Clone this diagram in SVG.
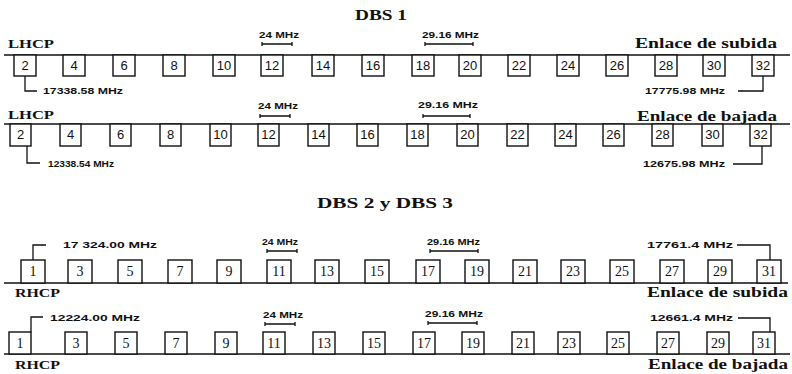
<svg xmlns="http://www.w3.org/2000/svg" width="792" height="374" viewBox="0 0 792 374">
<style>
.bg{fill:#fff}
.bx{fill:#fff;stroke:#111;stroke-width:1.4}
.ln{stroke:#111;stroke-width:1.6;fill:none}
.cn{stroke:#111;stroke-width:1.3;fill:none}
.bar{stroke:#111;stroke-width:1.3;fill:none}
.ttl{font-family:"Liberation Serif",serif;font-weight:bold;font-size:15px;fill:#111}
.pol{font-family:"Liberation Serif",serif;font-weight:bold;font-size:13px;fill:#111}
.lnk{font-family:"Liberation Serif",serif;font-weight:bold;font-size:15px;fill:#111}
.fq{font-family:"Liberation Sans",sans-serif;font-weight:bold;font-size:9px;fill:#111}
.na{font-family:"Liberation Sans",sans-serif;font-size:13px;fill:#111;text-anchor:middle}
.nb{font-family:"Liberation Serif",serif;font-size:14px;fill:#111;text-anchor:middle}
</style>
<rect class="bg" x="0" y="0" width="792" height="374"/>

<!-- Titles and labels -->
<text class="ttl" x="355" y="20" textLength="52" lengthAdjust="spacingAndGlyphs">DBS 1</text>
<text class="ttl" x="317" y="208" textLength="136" lengthAdjust="spacingAndGlyphs">DBS 2  y DBS 3</text>

<text class="pol" x="8" y="48" textLength="46" lengthAdjust="spacingAndGlyphs">LHCP</text>
<text class="pol" x="8" y="119" textLength="46" lengthAdjust="spacingAndGlyphs">LHCP</text>
<text class="pol" x="15" y="297" textLength="45" lengthAdjust="spacingAndGlyphs">RHCP</text>
<text class="pol" x="15" y="369" textLength="45" lengthAdjust="spacingAndGlyphs">RHCP</text>

<text class="lnk" x="635" y="48" textLength="142" lengthAdjust="spacingAndGlyphs">Enlace de subida</text>
<text class="lnk" x="637" y="121" textLength="140" lengthAdjust="spacingAndGlyphs">Enlace de bajada</text>
<text class="lnk" x="647" y="297" textLength="141" lengthAdjust="spacingAndGlyphs">Enlace de subida</text>
<text class="lnk" x="648" y="369" textLength="140" lengthAdjust="spacingAndGlyphs">Enlace de bajada</text>

<text class="fq" x="259" y="38" textLength="40" lengthAdjust="spacingAndGlyphs">24 MHz</text>
<text class="fq" x="422" y="38" textLength="57" lengthAdjust="spacingAndGlyphs">29.16 MHz</text>
<text class="fq" x="258" y="109" textLength="40" lengthAdjust="spacingAndGlyphs">24 MHz</text>
<text class="fq" x="418" y="108" textLength="60" lengthAdjust="spacingAndGlyphs">29.16 MHz</text>
<text class="fq" x="262" y="245" textLength="36" lengthAdjust="spacingAndGlyphs">24 MHz</text>
<text class="fq" x="427" y="245" textLength="53" lengthAdjust="spacingAndGlyphs">29.16 MHz</text>
<text class="fq" x="263" y="318" textLength="40" lengthAdjust="spacingAndGlyphs">24 MHz</text>
<text class="fq" x="425" y="317" textLength="58" lengthAdjust="spacingAndGlyphs">29.16 MHz</text>

<text class="fq" x="43" y="94" textLength="80" lengthAdjust="spacingAndGlyphs">17338.58 MHz</text>
<text class="fq" x="645" y="94" textLength="80" lengthAdjust="spacingAndGlyphs">17775.98 MHz</text>
<text class="fq" x="48" y="167" textLength="66" lengthAdjust="spacingAndGlyphs">12338.54 MHz</text>
<text class="fq" x="643" y="167" textLength="82" lengthAdjust="spacingAndGlyphs">12675.98 MHz</text>
<text class="fq" x="63" y="248" textLength="94" lengthAdjust="spacingAndGlyphs">17 324.00 MHz</text>
<text class="fq" x="647" y="248" textLength="86" lengthAdjust="spacingAndGlyphs">17761.4 MHz</text>
<text class="fq" x="50" y="321" textLength="90" lengthAdjust="spacingAndGlyphs">12224.00 MHz</text>
<text class="fq" x="650" y="321" textLength="83" lengthAdjust="spacingAndGlyphs">12661.4 MHz</text>

<!-- Connectors: baselines, spacing bars, brackets -->
<g id="connectors">
  <path class="ln" d="M4 55H790"/>
  <path class="ln" d="M4 124H790"/>
  <path class="ln" d="M4 283H788"/>
  <path class="ln" d="M4 354H790"/>

  <path class="bar" d="M262 44H292M262 42V46M292 42V46"/>
  <path class="bar" d="M425 44H473M425 42V46M473 42V46"/>
  <path class="bar" d="M260 116H290M260 114V118M290 114V118"/>
  <path class="bar" d="M423 116H470M423 114V118M470 114V118"/>
  <path class="bar" d="M267 251H297M267 249V253M297 249V253"/>
  <path class="bar" d="M430 251H478M430 249V253M478 249V253"/>
  <path class="bar" d="M265 324H295M265 322V326M295 322V326"/>
  <path class="bar" d="M428 323H477M428 321V325M477 321V325"/>

  <path class="cn" d="M25 76V91H37"/>
  <path class="cn" d="M738 91H763V76"/>
  <path class="cn" d="M27 146V163H40"/>
  <path class="cn" d="M733 164H762V146"/>
  <path class="cn" d="M33 260V245H46"/>
  <path class="cn" d="M737 245H770V260"/>
  <path class="cn" d="M31 332V317H43"/>
  <path class="cn" d="M738 318H770V332"/>
</g>

<!-- DBS 1 uplink channels -->
<g id="up1-2"><rect class="bx" x="14" y="55" width="22" height="21"/><text class="na" x="25" y="70">2</text></g>
<g id="up1-4"><rect class="bx" x="63" y="55" width="22" height="21"/><text class="na" x="74" y="70">4</text></g>
<g id="up1-6"><rect class="bx" x="113" y="55" width="22" height="21"/><text class="na" x="124" y="70">6</text></g>
<g id="up1-8"><rect class="bx" x="163" y="55" width="22" height="21"/><text class="na" x="174" y="70">8</text></g>
<g id="up1-10"><rect class="bx" x="213" y="55" width="22" height="21"/><text class="na" x="224" y="70">10</text></g>
<g id="up1-12"><rect class="bx" x="261" y="55" width="22" height="21"/><text class="na" x="272" y="70">12</text></g>
<g id="up1-14"><rect class="bx" x="312" y="55" width="22" height="21"/><text class="na" x="323" y="70">14</text></g>
<g id="up1-16"><rect class="bx" x="362" y="55" width="22" height="21"/><text class="na" x="373" y="70">16</text></g>
<g id="up1-18"><rect class="bx" x="412" y="55" width="22" height="21"/><text class="na" x="423" y="70">18</text></g>
<g id="up1-20"><rect class="bx" x="459" y="55" width="22" height="21"/><text class="na" x="470" y="70">20</text></g>
<g id="up1-22"><rect class="bx" x="508" y="55" width="22" height="21"/><text class="na" x="519" y="70">22</text></g>
<g id="up1-24"><rect class="bx" x="557" y="55" width="22" height="21"/><text class="na" x="568" y="70">24</text></g>
<g id="up1-26"><rect class="bx" x="606" y="55" width="22" height="21"/><text class="na" x="617" y="70">26</text></g>
<g id="up1-28"><rect class="bx" x="655" y="55" width="22" height="21"/><text class="na" x="666" y="70">28</text></g>
<g id="up1-30"><rect class="bx" x="703" y="55" width="22" height="21"/><text class="na" x="714" y="70">30</text></g>
<g id="up1-32"><rect class="bx" x="752" y="55" width="22" height="21"/><text class="na" x="763" y="70">32</text></g>

<!-- DBS 1 downlink channels -->
<g id="dn1-2"><rect class="bx" x="10" y="124" width="21" height="22"/><text class="na" x="20.5" y="139">2</text></g>
<g id="dn1-4"><rect class="bx" x="60" y="124" width="21" height="22"/><text class="na" x="70.5" y="139">4</text></g>
<g id="dn1-6"><rect class="bx" x="110" y="124" width="21" height="22"/><text class="na" x="120.5" y="139">6</text></g>
<g id="dn1-8"><rect class="bx" x="160" y="124" width="21" height="22"/><text class="na" x="170.5" y="139">8</text></g>
<g id="dn1-10"><rect class="bx" x="210" y="124" width="21" height="22"/><text class="na" x="220.5" y="139">10</text></g>
<g id="dn1-12"><rect class="bx" x="258" y="124" width="21" height="22"/><text class="na" x="268.5" y="139">12</text></g>
<g id="dn1-14"><rect class="bx" x="308" y="124" width="21" height="22"/><text class="na" x="318.5" y="139">14</text></g>
<g id="dn1-16"><rect class="bx" x="357" y="124" width="21" height="22"/><text class="na" x="367.5" y="139">16</text></g>
<g id="dn1-18"><rect class="bx" x="407" y="124" width="21" height="22"/><text class="na" x="417.5" y="139">18</text></g>
<g id="dn1-20"><rect class="bx" x="457" y="124" width="21" height="22"/><text class="na" x="467.5" y="139">20</text></g>
<g id="dn1-22"><rect class="bx" x="507" y="124" width="21" height="22"/><text class="na" x="517.5" y="139">22</text></g>
<g id="dn1-24"><rect class="bx" x="555" y="124" width="21" height="22"/><text class="na" x="565.5" y="139">24</text></g>
<g id="dn1-26"><rect class="bx" x="603" y="124" width="21" height="22"/><text class="na" x="613.5" y="139">26</text></g>
<g id="dn1-28"><rect class="bx" x="652" y="124" width="21" height="22"/><text class="na" x="662.5" y="139">28</text></g>
<g id="dn1-30"><rect class="bx" x="702" y="124" width="21" height="22"/><text class="na" x="712.5" y="139">30</text></g>
<g id="dn1-32"><rect class="bx" x="750" y="124" width="21" height="22"/><text class="na" x="760.5" y="139">32</text></g>

<!-- DBS 2/3 uplink channels -->
<g id="up2-1"><rect class="bx" x="21" y="260" width="24" height="23"/><text class="nb" x="33" y="276">1</text></g>
<g id="up2-3"><rect class="bx" x="68" y="260" width="24" height="23"/><text class="nb" x="80" y="276">3</text></g>
<g id="up2-5"><rect class="bx" x="118" y="260" width="24" height="23"/><text class="nb" x="130" y="276">5</text></g>
<g id="up2-7"><rect class="bx" x="168" y="260" width="24" height="23"/><text class="nb" x="180" y="276">7</text></g>
<g id="up2-9"><rect class="bx" x="217" y="260" width="24" height="23"/><text class="nb" x="229" y="276">9</text></g>
<g id="up2-11"><rect class="bx" x="267" y="260" width="24" height="23"/><text class="nb" x="279" y="276">11</text></g>
<g id="up2-13"><rect class="bx" x="315" y="260" width="24" height="23"/><text class="nb" x="327" y="276">13</text></g>
<g id="up2-15"><rect class="bx" x="365" y="260" width="24" height="23"/><text class="nb" x="377" y="276">15</text></g>
<g id="up2-17"><rect class="bx" x="416" y="260" width="24" height="23"/><text class="nb" x="428" y="276">17</text></g>
<g id="up2-19"><rect class="bx" x="465" y="260" width="24" height="23"/><text class="nb" x="477" y="276">19</text></g>
<g id="up2-21"><rect class="bx" x="513" y="260" width="24" height="23"/><text class="nb" x="525" y="276">21</text></g>
<g id="up2-23"><rect class="bx" x="561" y="260" width="24" height="23"/><text class="nb" x="573" y="276">23</text></g>
<g id="up2-25"><rect class="bx" x="610" y="260" width="24" height="23"/><text class="nb" x="622" y="276">25</text></g>
<g id="up2-27"><rect class="bx" x="660" y="260" width="24" height="23"/><text class="nb" x="672" y="276">27</text></g>
<g id="up2-29"><rect class="bx" x="708" y="260" width="24" height="23"/><text class="nb" x="720" y="276">29</text></g>
<g id="up2-31"><rect class="bx" x="757" y="260" width="24" height="23"/><text class="nb" x="769" y="276">31</text></g>

<!-- DBS 2/3 downlink channels -->
<g id="dn2-1"><rect class="bx" x="9" y="332" width="22" height="22"/><text class="nb" x="20" y="348">1</text></g>
<g id="dn2-3"><rect class="bx" x="65" y="332" width="22" height="22"/><text class="nb" x="76" y="348">3</text></g>
<g id="dn2-5"><rect class="bx" x="115" y="332" width="22" height="22"/><text class="nb" x="126" y="348">5</text></g>
<g id="dn2-7"><rect class="bx" x="165" y="332" width="22" height="22"/><text class="nb" x="176" y="348">7</text></g>
<g id="dn2-9"><rect class="bx" x="215" y="332" width="22" height="22"/><text class="nb" x="226" y="348">9</text></g>
<g id="dn2-11"><rect class="bx" x="263" y="332" width="22" height="22"/><text class="nb" x="274" y="348">11</text></g>
<g id="dn2-13"><rect class="bx" x="313" y="332" width="22" height="22"/><text class="nb" x="324" y="348">13</text></g>
<g id="dn2-15"><rect class="bx" x="363" y="332" width="22" height="22"/><text class="nb" x="374" y="348">15</text></g>
<g id="dn2-17"><rect class="bx" x="413" y="332" width="22" height="22"/><text class="nb" x="424" y="348">17</text></g>
<g id="dn2-19"><rect class="bx" x="462" y="332" width="22" height="22"/><text class="nb" x="473" y="348">19</text></g>
<g id="dn2-21"><rect class="bx" x="512" y="332" width="22" height="22"/><text class="nb" x="523" y="348">21</text></g>
<g id="dn2-23"><rect class="bx" x="558" y="332" width="22" height="22"/><text class="nb" x="569" y="348">23</text></g>
<g id="dn2-25"><rect class="bx" x="607" y="332" width="22" height="22"/><text class="nb" x="618" y="348">25</text></g>
<g id="dn2-27"><rect class="bx" x="657" y="332" width="22" height="22"/><text class="nb" x="668" y="348">27</text></g>
<g id="dn2-29"><rect class="bx" x="707" y="332" width="22" height="22"/><text class="nb" x="718" y="348">29</text></g>
<g id="dn2-31"><rect class="bx" x="753" y="332" width="22" height="22"/><text class="nb" x="764" y="348">31</text></g>
</svg>
